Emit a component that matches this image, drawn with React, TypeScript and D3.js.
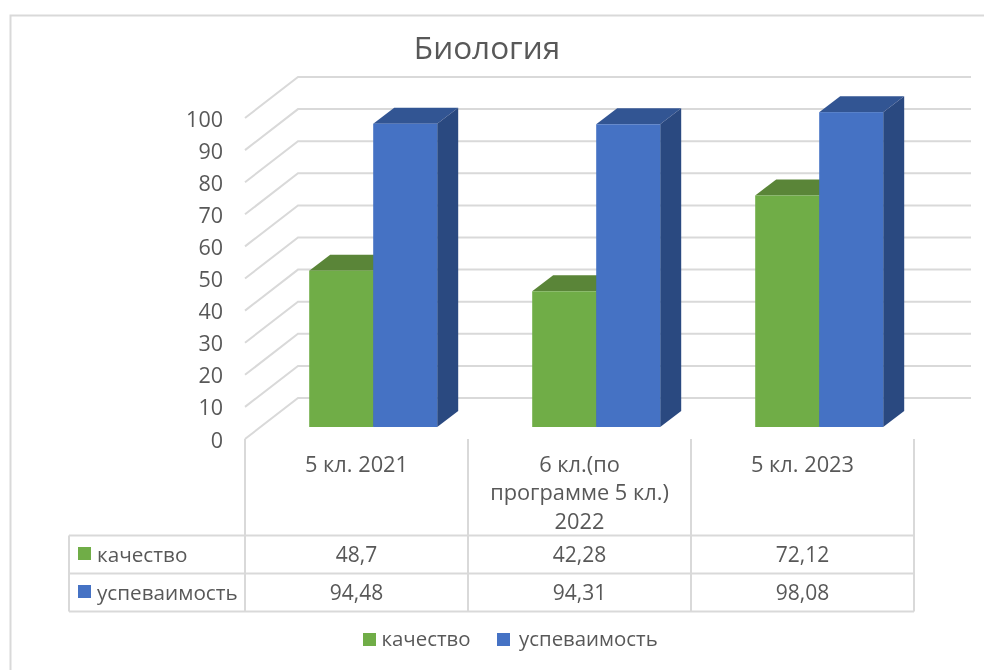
import React from "react";
import * as d3 from "d3";

const title = "Биология";
const categoryLines = [["5 кл. 2021"], ["6 кл.(по", "программе 5 кл.)", "2022"], ["5 кл. 2023"]];
const categoryKeys = ["a", "b", "c"];
const seriesNames = ["качество", "успеваимость"];
const quality = [48.7, 42.28, 72.12];
const progress = [94.48, 94.31, 98.08];
const qualityLabels = ["48,7", "42,28", "72,12"];
const progressLabels = ["94,48", "94,31", "98,08"];
const yTicks = d3.range(0, 101, 10);

const FONT = "'Open Sans', 'Noto Sans', sans-serif";
const TEXT = "#595959";
const GRID = "#d9d9d9";
const colors = [
  { front: "#70ad47", top: "#5a8537", side: "#507a30" },
  { front: "#4472c4", top: "#335593", side: "#2a4880" },
];
const legendColors = ["#70ad47", "#4472c4"];

export default function App() {
  const dx = 21, dy = -16;
  const wallDx = 53, wallDy = -41;
  const y = d3.scaleLinear().domain([0, 100]).range([427, 106]);
  const axisY = d3.scaleLinear().domain([0, 100]).range([439, 118]);
  const x = d3.scaleBand<string>().domain(categoryKeys).range([245, 914]);
  const inner = d3.scaleBand<string>().domain(seriesNames).range([64.2, 192.2]);
  const values = [quality, progress];
  const rows = [qualityLabels, progressLabels];
  const rowY = d3.scaleOrdinal<string, number>().domain(seriesNames).range([554, 592]);
  const hLines = [535.5, 573.5, 611.5];
  const vLines = [69, 245, 468, 691, 914];
  const backRight = 971;
  const poly = (p: number[][]) => d3.line()(p as [number, number][]) + "Z";

  return (
    <svg width={984} height={670} style={{ position: "absolute", left: 0, top: 0, display: "block", background: "#fff" }} fontFamily={FONT}>
      <defs>
        <filter id="soft" x="0" y="0" width="100%" height="100%" filterUnits="userSpaceOnUse">
          <feGaussianBlur stdDeviation="0.45" />
        </filter>
      </defs>
      <g filter="url(#soft)">
        <path d="M984,15.5H10.5V670" fill="none" stroke={GRID} strokeWidth={2} />
        <text x={487} y={59} textAnchor="middle" fontSize={31.5} fill={TEXT}>{title}</text>

        {yTicks.map((t) => (
          <g key={t}>
            <path d={d3.line()([[245, axisY(t)], [245 + wallDx, axisY(t) + wallDy], [backRight, axisY(t) + wallDy]])!} fill="none" stroke={GRID} strokeWidth={2} />
            <text x={223} y={axisY(t) + 8.5} textAnchor="end" fontSize={21.5} fill={TEXT}>{t}</text>
          </g>
        ))}

        {seriesNames.map((s, si) => (
          <g key={s}>
            {categoryKeys.map((c, ci) => {
              const x0 = x(c)! + inner(s)!;
              const x1 = x0 + inner.bandwidth();
              const yt = y(values[si][ci]);
              const yb = y(0);
              return (
                <g key={c}>
                  <path d={poly([[x0, yt], [x1, yt], [x1 + dx, yt + dy], [x0 + dx, yt + dy]])} fill={colors[si].top} />
                  <path d={poly([[x1, yt], [x1 + dx, yt + dy], [x1 + dx, yb + dy], [x1, yb]])} fill={colors[si].side} />
                  <rect x={x0} y={yt} width={x1 - x0} height={yb - yt} fill={colors[si].front} />
                </g>
              );
            })}
          </g>
        ))}

        {/* data table */}
        <g stroke={GRID} strokeWidth={2} fill="none">
          {hLines.map((h) => <path key={h} d={`M69,${h}H914`} />)}
          {vLines.map((v) => <path key={v} d={`M${v},${v === 69 ? hLines[0] : 439}V${hLines[2]}`} />)}
        </g>
        {categoryKeys.map((c, ci) =>
          categoryLines[ci].map((line, li) => (
            <text key={line} x={x(c)! + x.bandwidth() / 2} y={471.5 + li * 28.5} textAnchor="middle" fontSize={21.8} fill={TEXT}>{line}</text>
          ))
        )}
        {seriesNames.map((s, si) => (
          <g key={s}>
            <rect x={78} y={rowY(s) - 7} width={13} height={13} fill={legendColors[si]} />
            <text x={97} y={rowY(s) + 7.5} fontSize={20.7} fill={TEXT}>{s}</text>
            {categoryKeys.map((c, ci) => (
              <text key={c} x={x(c)! + x.bandwidth() / 2} y={rowY(s) + 7.5} textAnchor="middle" fontSize={21} fill={TEXT}>{rows[si][ci]}</text>
            ))}
          </g>
        ))}

        {/* legend */}
        {seriesNames.map((s, si) => {
          const lx = [363, 497][si];
          return (
            <g key={s}>
              <rect x={lx} y={633} width={13} height={13} fill={legendColors[si]} />
              <text x={lx + [18.5, 22][si]} y={645.5} fontSize={20.4} fill={TEXT}>{s}</text>
            </g>
          );
        })}
      </g>
    </svg>
  );
}
